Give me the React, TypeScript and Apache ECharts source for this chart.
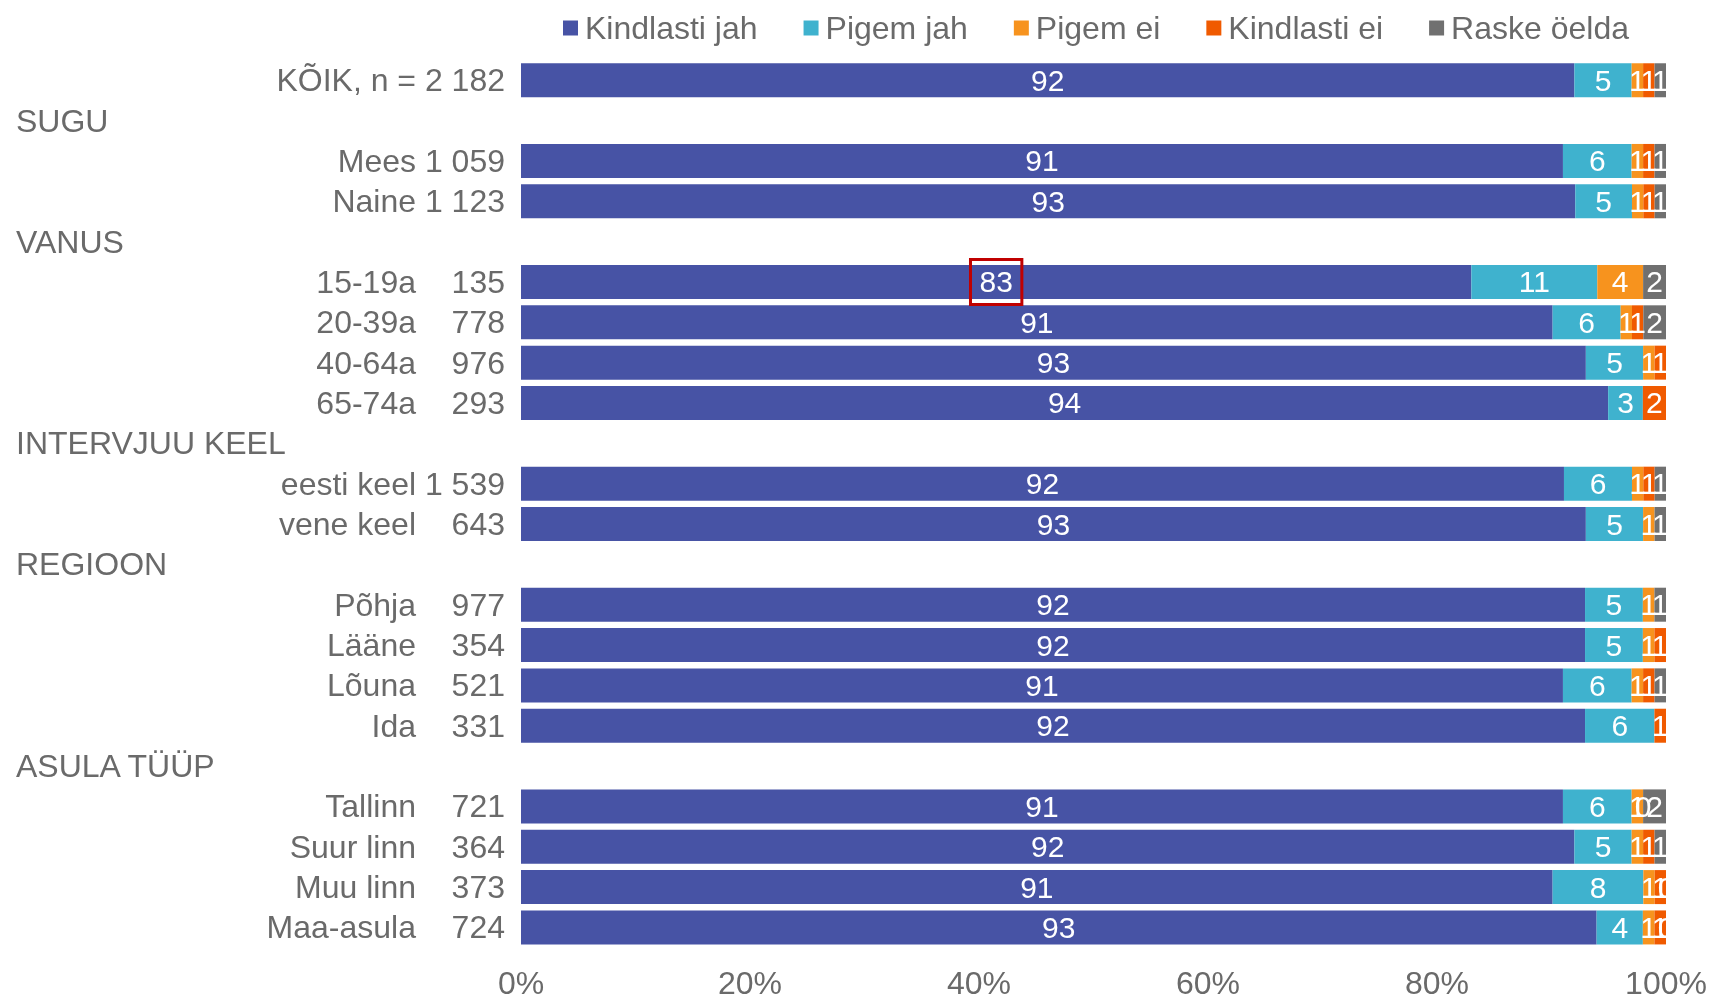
import React, { useEffect, useRef } from "react";
import * as echarts from "echarts";

const categoryNames = [
  "KÕIK, n = 2 182", "SUGU", "Mees 1 059", "Naine 1 123", "VANUS",
  "15-19a", "20-39a", "40-64a", "65-74a", "INTERVJUU KEEL",
  "eesti keel 1 539", "vene keel", "REGIOON", "Põhja", "Lääne",
  "Lõuna", "Ida", "ASULA TÜÜP", "Tallinn", "Suur linn", "Muu linn", "Maa-asula",
];
const sampleSizes = [
  "", "", "", "", "", "135", "778", "976", "293", "", "", "643", "",
  "977", "354", "521", "331", "", "721", "364", "373", "724",
];
const headerRows = ["SUGU", "VANUS", "INTERVJUU KEEL", "REGIOON", "ASULA TÜÜP"];

const seriesNames = ["Kindlasti jah", "Pigem jah", "Pigem ei", "Kindlasti ei", "Raske öelda"];
const seriesColors = ["#4753A5", "#3FB2CE", "#F7931E", "#F05A00", "#707070"];

const kindlastiJah = [92, null, 91, 93, null, 83, 91, 93, 94, null, 92, 93, null, 92, 92, 91, 92, null, 91, 92, 91, 93];
const pigemJah = [5, null, 6, 5, null, 11, 6, 5, 3, null, 6, 5, null, 5, 5, 6, 6, null, 6, 5, 8, 4];
const pigemEi = [1, null, 1, 1, null, 4, 1, 1, null, null, 1, 1, null, 1, 1, 1, null, null, 1, 1, 1, 1];
const kindlastiEi = [1, null, 1, 1, null, null, 1, 1, 2, null, 1, null, null, null, 1, 1, 1, null, 0, 1, 1, 1];
const raskeOelda = [1, null, 1, 1, null, 2, 2, null, null, null, 1, 1, null, 1, null, 1, null, null, 2, 1, 0, 0];

const xTicks = [0, 20, 40, 60, 80, 100];
const highlighted = { series: 0, row: 5 };

const allSeries = [kindlastiJah, pigemJah, pigemEi, kindlastiEi, raskeOelda];
const FONT = "'Liberation Sans', Arial, sans-serif";
const TEXT = "#6a6a6a";
const FS = 32;

export default function App() {
  const ref = useRef<HTMLDivElement>(null);
  useEffect(() => {
    if (!ref.current) return;
    const chart = echarts.init(ref.current, undefined, { renderer: "svg" });
    const rowSums = categoryNames.map((_, i) =>
      allSeries.reduce((s, arr) => s + (arr[i] ?? 0), 0)
    );
    const series = allSeries.map((arr, si) => ({
      type: "bar",
      name: seriesNames[si],
      stack: "total",
      barWidth: 34,
      itemStyle: { color: seriesColors[si] },
      label: {
        show: true,
        position: "inside",
        color: "#fff",
        fontSize: 30,
        fontFamily: FONT,
        formatter: (p: any) => String(p.data.raw),
      },
      data: arr.map((v, i) => {
        if (v === null) return null;
        const item: any = { value: (v / rowSums[i]) * 100, raw: v };
        if (si === highlighted.series && i === highlighted.row) {
          item.label = {
            borderColor: "#C00000",
            borderWidth: 3,
            padding: [9, 9, 6, 9],
          };
        }
        return item;
      }),
    }));
    chart.setOption({
      animation: false,
      textStyle: { fontFamily: FONT },
      legend: {
        top: 7,
        left: 558,
        icon: "rect",
        itemWidth: 15,
        itemHeight: 15,
        itemGap: 46,
        textStyle: { color: TEXT, fontSize: FS, fontFamily: FONT, padding: [0, 0, 0, 2] },
        data: seriesNames,
      },
      grid: {
        left: 521,
        right: 43,
        top: 60.1,
        bottom: 51.4,
        containLabel: false,
        outerBoundsMode: "none",
      },
      xAxis: {
        type: "value",
        min: xTicks[0],
        max: xTicks[xTicks.length - 1],
        interval: 20,
        axisLine: { show: false },
        axisTick: { show: false },
        splitLine: { show: false },
        axisLabel: {
          color: TEXT,
          fontSize: FS,
          fontFamily: FONT,
          margin: 19,
          formatter: "{value}%",
        },
      },
      yAxis: {
        type: "category",
        inverse: true,
        data: categoryNames,
        axisLine: { show: false },
        axisTick: { show: false },
        axisLabel: {
          interval: 0,
          margin: 16,
          color: TEXT,
          fontSize: FS,
          fontFamily: FONT,
          formatter: (val: string, idx: number) => {
            if (headerRows.includes(val)) return `{h|${val}}`;
            if (sampleSizes[idx]) return `{a|${val}}{b|${sampleSizes[idx]}}`;
            return `{c|${val}}`;
          },
          rich: {
            h: { width: 489, align: "left", color: TEXT, fontSize: FS, fontFamily: FONT },
            a: { color: TEXT, fontSize: FS, fontFamily: FONT },
            b: { width: 89, align: "right", color: TEXT, fontSize: FS, fontFamily: FONT },
            c: { color: TEXT, fontSize: FS, fontFamily: FONT },
          },
        },
      },
      series,
    });
    return () => chart.dispose();
  }, []);
  return (
    <div
      ref={ref}
      style={{ position: "fixed", left: 0, top: 0, width: 1709, height: 999 }}
    />
  );
}
